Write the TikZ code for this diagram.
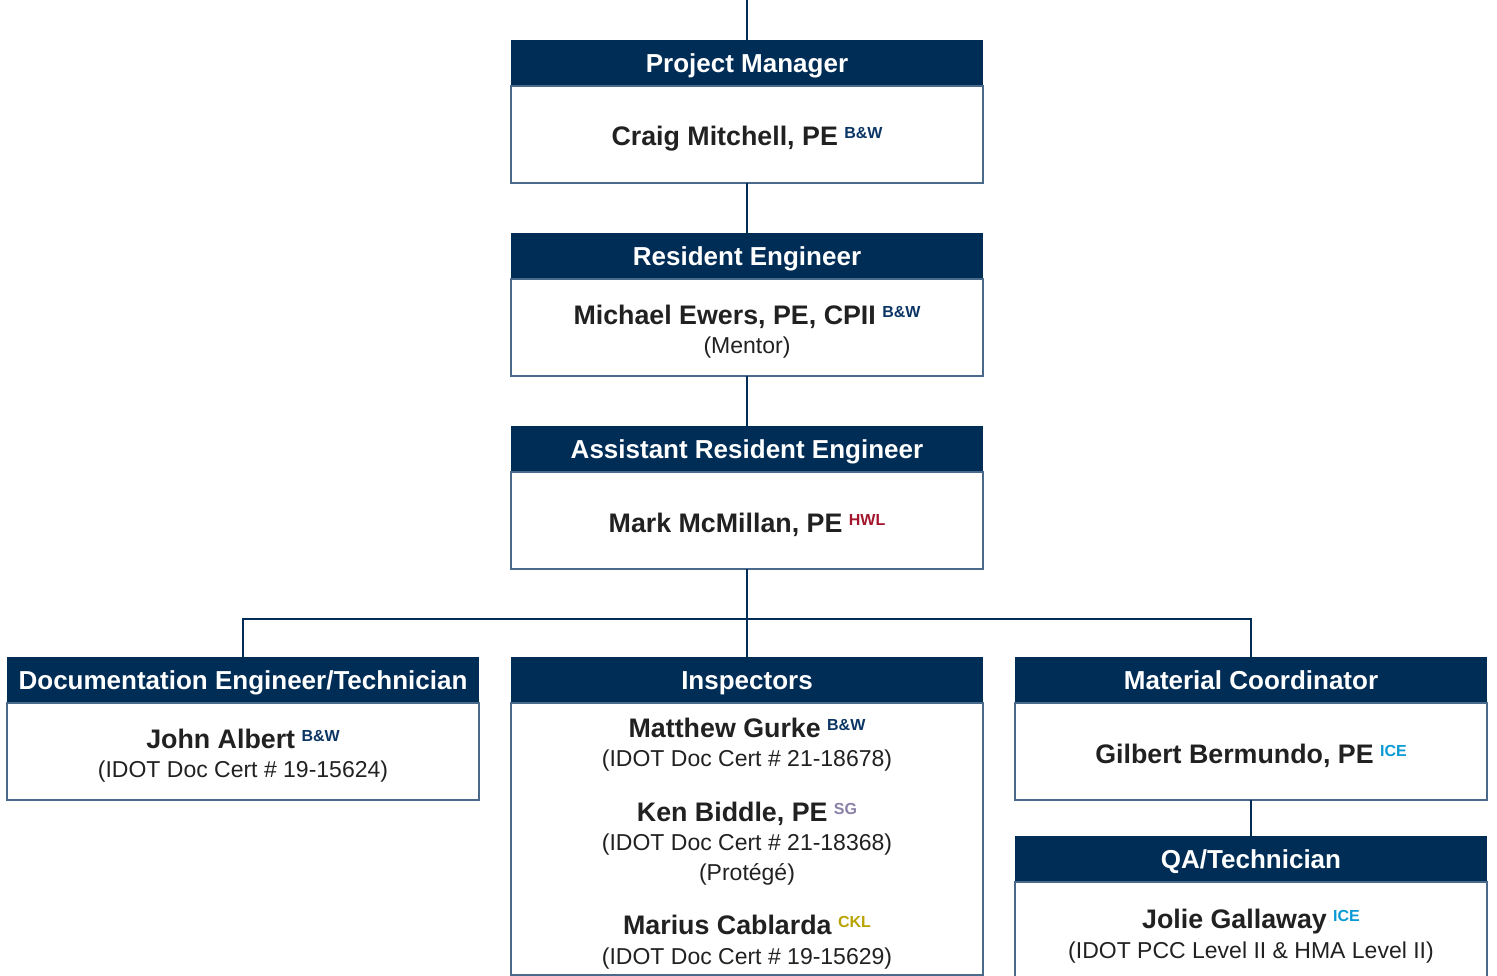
\documentclass[tikz,border=0pt]{standalone}
\usepackage{fontspec}
\setmainfont{Liberation Sans}
\usepackage{xcolor}
\usetikzlibrary{positioning}

\definecolor{navy}{HTML}{002D56}
\definecolor{edge}{HTML}{4A6A8C}
\definecolor{bw}{HTML}{0B3564}
\definecolor{hwl}{HTML}{A3162E}
\definecolor{sg}{HTML}{8A80A8}
\definecolor{ckl}{HTML}{B8A400}
\definecolor{ice}{HTML}{0A9AD4}

\newcommand\firm[2]{\raisebox{7pt}{\fontsize{16}{16}\selectfont\bfseries\color{#1}#2}}
\newcommand\pname[1]{{\fontsize{26.8}{29.5}\selectfont\bfseries #1}}
\newcommand\lead{\rule{0pt}{28pt}}

\begin{document}
\begin{tikzpicture}[x=1pt, y=-1pt,
  head/.style = {fill=navy, text=white, minimum width=472pt, minimum height=46pt, inner sep=0pt, outer sep=0pt, text height=18.6pt, text depth=0pt, font=\fontsize{26}{30}\selectfont\bfseries},
  body/.style = {draw=edge, line width=1.3pt, fill=white, minimum width=472pt, minimum height=97pt, inner sep=0pt, outer sep=0pt, align=center, text=black!87, font=\fontsize{23}{29.5}\selectfont},
  link/.style = {draw=navy, line width=2.6pt}]
\clip (0,0) rectangle (1497,975);

% top row
\coordinate (top) at (747,0);
\node[head] (pmh) at (747,63) {Project Manager};
\node[body, below=0pt of pmh] (pmb) {\lead\pname{Craig Mitchell, PE} \firm{bw}{B\&W}};
\node[head, below=50pt of pmb] (reh) {Resident Engineer};
\node[body, below=0pt of reh] (reb) {\lead\pname{Michael Ewers, PE, CPII} \firm{bw}{B\&W}\\(Mentor)};
\node[head, below=50pt of reb] (arh) {Assistant Resident Engineer};
\node[body, below=0pt of arh] (arb) {\lead\pname{Mark McMillan, PE} \firm{hwl}{HWL}};

% lower row
\node[head, below=88pt of arb] (insh) {Inspectors};
\node[body, below=0pt of insh, minimum height=272pt] (insb) {\lead\pname{Matthew Gurke} \firm{bw}{B\&W}\\(IDOT Doc Cert \# 21-18678)\\[25pt]
  \pname{Ken Biddle, PE} \firm{sg}{SG}\\(IDOT Doc Cert \# 21-18368)\\(Protégé)\\[25pt]
  \pname{Marius Cablarda} \firm{ckl}{CKL}\\(IDOT Doc Cert \# 19-15629)};
\node[head, left=32pt of insh] (doch) {Documentation Engineer/Technician};
\node[body, below=0pt of doch] (docb) {\lead\pname{John Albert} \firm{bw}{B\&W}\\(IDOT Doc Cert \# 19-15624)};
\node[head, right=32pt of insh] (math) {Material Coordinator};
\node[body, below=0pt of math] (matb) {\lead\pname{Gilbert Bermundo, PE} \firm{ice}{ICE}};
\node[head, below=36pt of matb] (qah) {QA/Technician};
\node[body, below=0pt of qah, minimum height=100pt] (qab) {\lead\pname{Jolie Gallaway} \firm{ice}{ICE}\\(IDOT PCC Level II \& HMA Level II)};

% connectors
\coordinate (bus) at (747,619);
\draw[link] (top) -- (pmh);
\draw[link] (pmb) -- (reh);
\draw[link] (reb) -- (arh);
\draw[link] (arb) -- (insh);
\draw[link] (doch.north) |- (bus) -| (math.north);
\draw[link] (matb) -- (qah);
\end{tikzpicture}
\end{document}
